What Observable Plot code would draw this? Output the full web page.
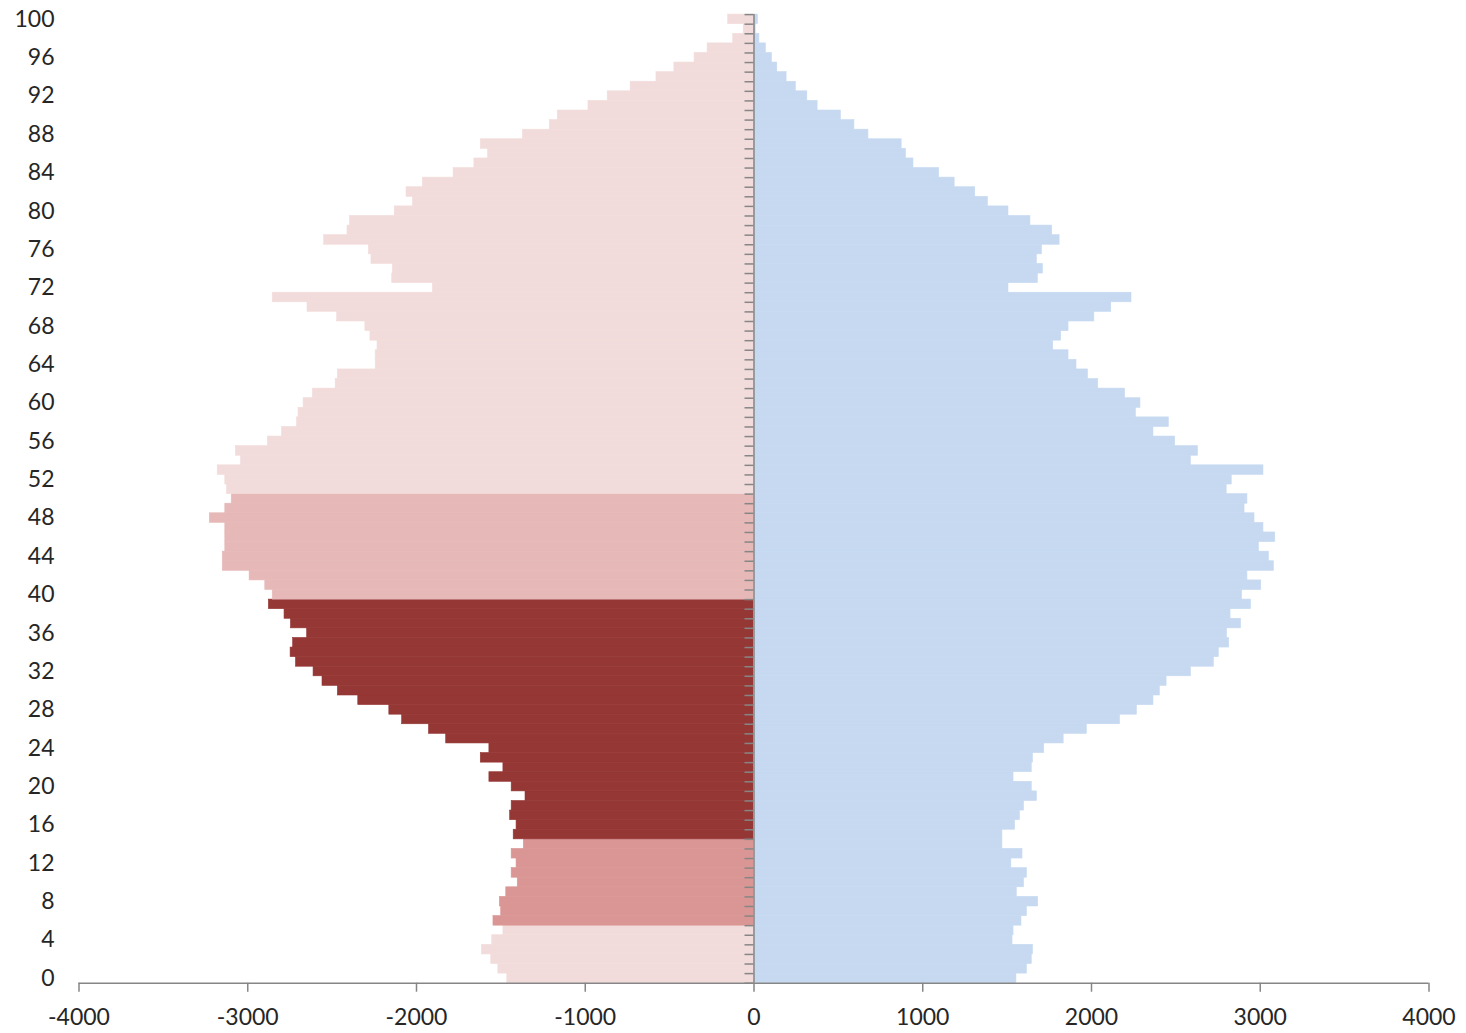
<!DOCTYPE html>
<html>
<head>
<meta charset="utf-8">
<script src="https://cdn.jsdelivr.net/npm/d3@7"></script>
<script src="https://cdn.jsdelivr.net/npm/@observablehq/plot@0.6"></script>
<style>
  html, body { margin: 0; padding: 0; background: #fff; }
  #chart svg { display: block; }
</style>
</head>
<body>
<div id="chart"></div>
<script>
// ---------------- data ----------------
const ages = d3.range(0, 101);

// left side (drawn as negative), ages 0..100
const leftValues = [
  1462, 1515, 1557, 1612, 1551, 1485, 1544, 1498, 1506, 1468,
  1400, 1436, 1407, 1436, 1364, 1424, 1407, 1445, 1436, 1354,
  1436, 1568, 1485, 1619, 1568, 1824, 1926, 2085, 2161, 2345,
  2466, 2557, 2610, 2714, 2746, 2731, 2648, 2744, 2782, 2875,
  2852, 2896, 2989, 3148, 3148, 3133, 3133, 3133, 3225, 3133,
  3095, 3123, 3133, 3178, 3040, 3070, 2881, 2797, 2708, 2699,
  2669, 2614, 2479, 2466, 2242, 2242, 2231, 2273, 2303, 2470,
  2646, 2852, 1903, 2144, 2140, 2267, 2282, 2547, 2409, 2394,
  2129, 2021, 2059, 1962, 1780, 1657, 1576, 1619, 1369, 1210,
  1163, 981, 867, 731, 578, 472, 352, 275, 123, 61,
  153
];

// right side, ages 0..100
const rightValues = [
  1555, 1617, 1646, 1653, 1532, 1538, 1585, 1617, 1684, 1557,
  1600, 1617, 1525, 1591, 1472, 1472, 1547, 1576, 1600, 1676,
  1646, 1538, 1646, 1653, 1720, 1835, 1972, 2169, 2269, 2367,
  2405, 2445, 2589, 2725, 2754, 2816, 2803, 2886, 2824, 2945,
  2892, 3006, 2924, 3081, 3051, 2992, 3089, 3019, 2966, 2907,
  2924, 2801, 2831, 3019, 2589, 2631, 2496, 2367, 2458, 2263,
  2290, 2199, 2040, 1979, 1911, 1864, 1773, 1820, 1864, 2017,
  2117, 2237, 1508, 1682, 1712, 1676, 1706, 1811, 1767, 1638,
  1508, 1386, 1311, 1189, 1097, 945, 900, 875, 678, 595,
  515, 377, 316, 248, 193, 138, 106, 70, 32, 10,
  23
];

// highlighted age ranges on the left side
const bandStarts = [6, 15, 40];
const bandEnds   = [14, 39, 50];

const yTickValues = d3.range(0, 101, 4);
const xTickValues = [-4000, -3000, -2000, -1000, 0, 1000, 2000, 3000, 4000];

// ---------------- style ----------------
const W = 1466, H = 1033;
const ML = 78.5, MR = 37.5, MT = 14.1, MB = 50.3;
const leftBase = "#F2DCDB";
const bandColors = ["#DA9694", "#953735", "#E6B9B8"];
const rightColor = "#C6D9F1";
const axisColor = "#868686";
const textColor = "#262626";
const FONT = "Lato, 'Open Sans', sans-serif";
const FS = 23;

function leftColor(age) {
  for (let i = 0; i < bandStarts.length; i++) {
    if (age >= bandStarts[i] && age <= bandEnds[i]) return bandColors[i];
  }
  return leftBase;
}

const rows = ages.flatMap((a, i) => [
  {age: a, value: -leftValues[i], color: leftColor(a)},
  {age: a, value: rightValues[i], color: rightColor}
]);

const xDomain = d3.extent(xTickValues);
const yDomain = [ages[0] - 0.5, ages[ages.length - 1] + 0.5];
const boundaries = d3.range(ages.length + 1).map(i => ages[0] - 0.5 + i);
const zeroOffset = (0 - xDomain[0]) / (xDomain[1] - xDomain[0]) * (W - ML - MR);

const chart = Plot.plot({
  width: W,
  height: H,
  marginLeft: ML,
  marginRight: MR,
  marginTop: MT,
  marginBottom: MB,
  style: {fontFamily: FONT, fontSize: FS + "px", color: textColor, background: "#fff"},
  x: {domain: xDomain, axis: null},
  y: {domain: yDomain, axis: null},
  marks: [
    Plot.rectX(rows, {
      x1: 0,
      x2: "value",
      y1: d => d.age - 0.5,
      y2: d => d.age + 0.5,
      fill: d => d.color,
      stroke: d => d.color,
      strokeWidth: 0.6
    }),
    // central vertical axis
    Plot.ruleX([0], {stroke: axisColor, strokeWidth: 1.5}),
    // minor category ticks on central axis
    Plot.axisY({
      anchor: "left",
      ticks: boundaries,
      tickSize: 9,
      tickFormat: () => "",
      stroke: axisColor,
      strokeWidth: 1.5,
      dx: zeroOffset,
      label: null
    }),
    // age labels
    Plot.axisY({
      anchor: "left",
      ticks: yTickValues,
      tickSize: 0,
      tickPadding: 24.5,
      tickFormat: d => String(d),
      fill: textColor,
      fontSize: FS,
      label: null
    }),
    // bottom axis line
    Plot.ruleY([yDomain[0]], {stroke: axisColor, strokeWidth: 1.5}),
    Plot.axisX({
      anchor: "bottom",
      ticks: xTickValues,
      tickSize: 9,
      tickPadding: 16,
      tickFormat: d => String(d),
      stroke: axisColor,
      strokeWidth: 1.5,
      fill: textColor,
      fontSize: FS,
      label: null
    })
  ]
});

document.getElementById("chart").appendChild(chart);
</script>
</body>
</html>
